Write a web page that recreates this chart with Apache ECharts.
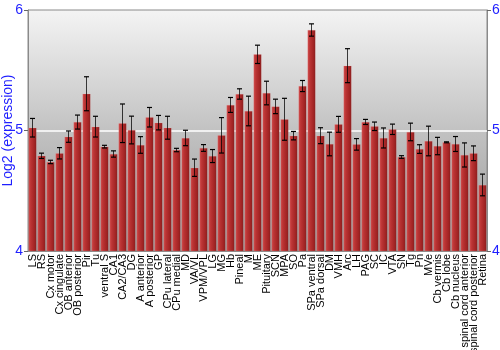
<!DOCTYPE html>
<html><head><meta charset="utf-8">
<script src="https://cdn.jsdelivr.net/npm/echarts@6/dist/echarts.min.js"></script>
<style>html,body{margin:0;padding:0;background:#fff}#c{width:500px;height:350px}</style>
</head><body><div id="c"></div>
<script>
const categories = ["LS","RS","Cx motor","Cx cingulate","OB anterior","OB posterior","Pir","Tu","ventral S","CA1","CA2/CA3","DG","A anterior","A posterior","GP","CPu lateral","CPu medial","MD","VA/VL","VPM/VPL","LG","MG","Hb","Pineal","M","ME","Pituitary","SCN","MPA","SO","Pa","SPa ventral","SPa dorsal","DM","VMH","Arc","LH","PAG","SC","IC","VTA","SN","Tg","Pn","MVe","Cb vermis","Cb lobe","Cb nucleus","spinal cord anterior","spinal cord posterior","Retina"];
const values = [5.023,4.79,4.739,4.811,4.949,5.07,5.305,5.032,4.866,4.805,5.06,5.004,4.88,5.11,5.065,5.023,4.838,4.938,4.691,4.855,4.788,4.96,5.212,5.303,5.162,5.632,5.311,5.2,5.093,4.957,5.369,5.834,4.957,4.888,5.051,5.538,4.885,5.071,5.035,4.938,5.01,4.78,4.988,4.846,4.913,4.871,4.902,4.888,4.797,4.811,4.548];
const errors = [0.077,0.022,0.014,0.047,0.047,0.058,0.141,0.086,0.011,0.026,0.16,0.115,0.069,0.081,0.06,0.095,0.014,0.064,0.072,0.028,0.054,0.147,0.062,0.043,0.123,0.076,0.098,0.06,0.174,0.035,0.046,0.051,0.066,0.098,0.066,0.141,0.048,0.021,0.035,0.083,0.043,0.011,0.073,0.036,0.123,0.072,0.004,0.062,0.1,0.061,0.09];
const yMin = 4, yMax = 6, yStep = 1;

const chart = echarts.init(document.getElementById('c'));
const blue = '#1f1fff';
const font = 'Liberation Sans, Arial, sans-serif';
const axisCommon = {
  type: 'value', min: yMin, max: yMax, interval: yStep,
  axisLine: {show: true, lineStyle: {color: '#8a8a8a'}},
  axisTick: {show: true, length: 4, lineStyle: {color: '#666'}},
  axisLabel: {color: blue, fontSize: 14, fontFamily: font, margin: 5}
};
chart.setOption({
  animation: false,
  grid: {
    left: 28, right: 13, top: 10, bottom: 99, show: true,
    containLabel: false, outerBoundsMode: 'none',
    borderColor: '#8a8a8a', borderWidth: 1,
    backgroundColor: {type: 'linear', x: 0, y: 0, x2: 0, y2: 1, colorStops: [
      {offset: 0, color: '#f4f4f4'}, {offset: 0.5, color: '#c2c2c2'}, {offset: 1, color: '#989898'}]}
  },
  xAxis: {
    type: 'category', data: categories,
    axisLine: {show: true, lineStyle: {color: '#8a8a8a'}},
    axisTick: {show: false},
    axisLabel: {interval: 0, rotate: 90, fontSize: 11, color: '#000', margin: 3, fontFamily: font}
  },
  yAxis: [
    Object.assign({}, axisCommon, {
      position: 'left',
      name: 'Log2 (expression)', nameLocation: 'middle', nameGap: 13, nameMoveOverlap: false,
      nameTextStyle: {color: blue, fontSize: 14, fontFamily: font},
      splitLine: {show: true, lineStyle: {color: ['rgba(0,0,0,0)', '#ffffff', 'rgba(0,0,0,0)'], width: 1.5}}
    }),
    Object.assign({}, axisCommon, {position: 'right', splitLine: {show: false}})
  ],
  series: [
    {
      type: 'bar', data: values, barWidth: 8,
      itemStyle: {
        color: {type: 'linear', x: 0, y: 0, x2: 1, y2: 0, colorStops: [
          {offset: 0, color: '#cf4a4a'}, {offset: 0.3, color: '#bb3434'}, {offset: 0.75, color: '#a22424'}, {offset: 1, color: '#7e1515'}]},
        borderColor: 'rgba(255,170,170,0.35)', borderWidth: 0.5
      }
    },
    {
      type: 'custom',
      data: values.map((v, i) => [i, v, errors[i]]),
      z: 5,
      renderItem: function (params, api) {
        const i = api.value(0), v = api.value(1), e = api.value(2);
        const hi = api.coord([i, v + e]);
        const lo = api.coord([i, v - e]);
        const w = 2.5;
        const st = {stroke: 'rgba(0,0,0,0.75)', lineWidth: 1};
        const cst = {stroke: '#000', lineWidth: 1.2};
        return {type: 'group', children: [
          {type: 'line', shape: {x1: hi[0], y1: hi[1], x2: lo[0], y2: lo[1]}, style: st},
          {type: 'line', shape: {x1: hi[0] - w, y1: hi[1], x2: hi[0] + w, y2: hi[1]}, style: cst},
          {type: 'line', shape: {x1: lo[0] - w, y1: lo[1], x2: lo[0] + w, y2: lo[1]}, style: cst}
        ]};
      }
    }
  ]
});
</script></body></html>
